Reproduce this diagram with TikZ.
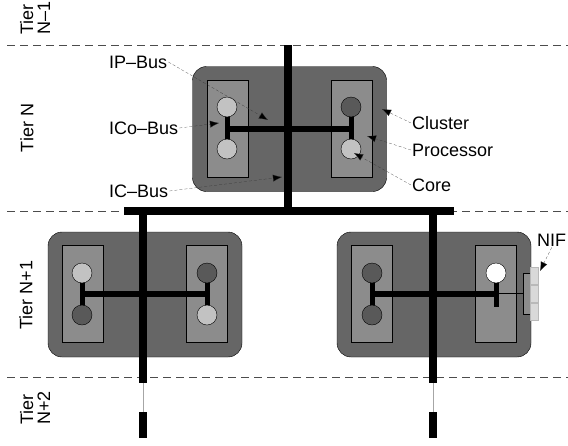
\documentclass[tikz,border=0pt]{standalone}
\usepackage{fontspec}
\setmainfont{Liberation Sans}
\usetikzlibrary{arrows.meta}
\definecolor{clustergray}{gray}{0.40}
\definecolor{procgray}{gray}{0.55}
\definecolor{lightcore}{gray}{0.76}
\definecolor{darkcore}{gray}{0.35}
\definecolor{pingray}{gray}{0.85}
\definecolor{tierline}{gray}{0.30}

\begin{document}
\begin{tikzpicture}[x=1pt, y=-1pt, font=\fontsize{18}{17}\selectfont,
  >={Latex[length=9pt,width=7pt]},
  cluster/.style={draw, rounded corners=14pt, fill=clustergray,
    minimum width=194pt, minimum height=125pt, inner sep=0pt},
  proc/.style={draw, fill=procgray, minimum width=41pt,
    minimum height=97pt, inner sep=0pt},
  core/.style={draw, circle, minimum size=20pt, inner sep=0pt},
  tier/.style={draw=tierline, dash pattern=on 8pt off 5pt, thick},
  tlbl/.style={rotate=90, align=left},
  bus/.style={line width=8pt},
  ibus/.style={line width=6pt},
  cbus/.style={line width=5pt},
  note/.style={-{Latex[length=9pt,width=7pt,fill=black]}, densely dashed,
    very thin, black!80},
  lbl/.style={anchor=west, inner sep=1pt}]
\useasboundingbox (0,0) rectangle (568,445);
% Tier boundaries and labels
\coordinate (t1l) at (7,45);   \coordinate (t1r) at (568,45);
\coordinate (t2l) at (7,211);  \coordinate (t2r) at (568,211);
\coordinate (t3l) at (7,377);  \coordinate (t3r) at (568,377);
\draw[tier] (t1l) -- (t1r);
\draw[tier] (t2l) -- (t2r);
\draw[tier] (t3l) -- (t3r);
\node[tlbl] (tierA) at (35,18)  {Tier\\N--1};
\node[tlbl] (tierB) at (27,128) {Tier N};
\node[tlbl] (tierC) at (26,295) {Tier N+1};
\node[tlbl] (tierD) at (35,408) {Tier\\N+2};
% Clusters
\node[cluster] (clN)  at (289.5,129)  {};
\node[cluster] (clL)  at (145,294.5)  {};
\node[cluster] (clR)  at (434,294.5)  {};
% Processors
\node[proc] (pN1) at (227.5,128.5) {};
\node[proc] (pN2) at (351.5,128.5) {};
\node[proc] (pL1) at (82.5,293.5)  {};
\node[proc] (pL2) at (207,293.5)   {};
\node[proc] (pR1) at (372,293.5)   {};
\node[proc] (pR2) at (496,293.5)   {};
% Network interface
\node[draw, fill=procgray, minimum width=7pt, minimum height=41pt,
  inner sep=0pt] (nif) at (526.5,293.5) {};
\foreach \y/\n in {276/1, 294/2, 312/3}
  \node[draw=gray!55, fill=pingray, minimum width=8pt, minimum height=17pt,
    inner sep=0pt, anchor=west] (pin\n) at (nif.east |- 0,\y) {};
% Core positions
\coordinate (kN1) at (227,107); \coordinate (kN2) at (227,149);
\coordinate (kN3) at (351,107); \coordinate (kN4) at (351,149);
\coordinate (kL1) at (82,273);  \coordinate (kL2) at (82,315);
\coordinate (kL3) at (207,273); \coordinate (kL4) at (207,315);
\coordinate (kR1) at (372,273); \coordinate (kR2) at (372,315);
\coordinate (kR3) at (496,273); \coordinate (kR4) at (496,307);
% Core buses (ICo) and processor buses (IP)
\draw[cbus] (kN1) -- (kN2);  \draw[cbus] (kN3) -- (kN4);
\draw[cbus] (kL1) -- (kL2);  \draw[cbus] (kL3) -- (kL4);
\draw[cbus] (kR1) -- (kR2);  \draw[cbus] (kR3) -- (kR4);
\draw[ibus] (kN1 |- pN1) -- (kN3 |- pN2);
\draw[ibus] (kL1 |- pL1) -- (kL3 |- pL2);
\draw[ibus] (kR1 |- pR1) -- (kR3 |- pR2);
\draw[thin] (kR3 |- pR2) -- (nif.west);
% Cores
\node[core, fill=lightcore] (cN1) at (kN1) {};
\node[core, fill=lightcore] (cN2) at (kN2) {};
\node[core, fill=darkcore]  (cN3) at (kN3) {};
\node[core, fill=lightcore] (cN4) at (kN4) {};
\node[core, fill=lightcore] (cL1) at (kL1) {};
\node[core, fill=darkcore]  (cL2) at (kL2) {};
\node[core, fill=darkcore]  (cL3) at (kL3) {};
\node[core, fill=lightcore] (cL4) at (kL4) {};
\node[core, fill=darkcore]  (cR1) at (kR1) {};
\node[core, fill=darkcore]  (cR2) at (kR2) {};
\node[core, fill=white]     (cR3) at (kR3) {};
% Inter-cluster bus (IC)
\coordinate (bTop) at (288,45);  \coordinate (bJoin) at (288,215);
\coordinate (bL) at (124,211);   \coordinate (bR) at (454,211);
\draw[bus] (bTop) -- (bJoin);
\draw[bus] (bL) -- (bR);
\foreach \x/\n in {143/L, 433/R} {
  \coordinate (d\n0) at (\x,207);
  \coordinate (d\n1) at (\x,383);
  \coordinate (d\n2) at (\x,412);
  \coordinate (d\n3) at (\x,438);
  \draw[bus] (d\n0) -- (d\n1);
  \draw[gray!70, thin] (d\n1) -- (d\n2);
  \draw[bus] (d\n2) -- (d\n3);
}
% Annotations
\node[lbl] (ipbus)  at (108,62)  {IP--Bus};
\node[lbl] (icobus) at (108,128) {ICo--Bus};
\node[lbl] (icbus)  at (108,191) {IC--Bus};
\node[lbl] (lclu)   at (411,123) {Cluster};
\node[lbl] (lproc)  at (411,150) {Processor};
\node[lbl] (lcore)  at (411,185) {Core};
\node[lbl] (lnif)   at (536,240) {NIF};
\coordinate (aIP)  at (268,120);
\coordinate (aICo) at (219,123);
\coordinate (aIC)  at (282,177);
\coordinate (aClu) at (382,109);
\coordinate (aPro) at (367,136);
\coordinate (aCor) at (354,153);
\coordinate (aNif) at (540,271);
\draw[note] (ipbus.east)  -- (aIP);
\draw[note] (icobus.east) -- (aICo);
\draw[note] (icbus.east)  -- (aIC);
\draw[note] (lclu.west)   -- (aClu);
\draw[note] (lproc.west)  -- (aPro);
\draw[note] (lcore.west)  -- (aCor);
\draw[note] (lnif.south)  -- (aNif);
\end{tikzpicture}
\end{document}
